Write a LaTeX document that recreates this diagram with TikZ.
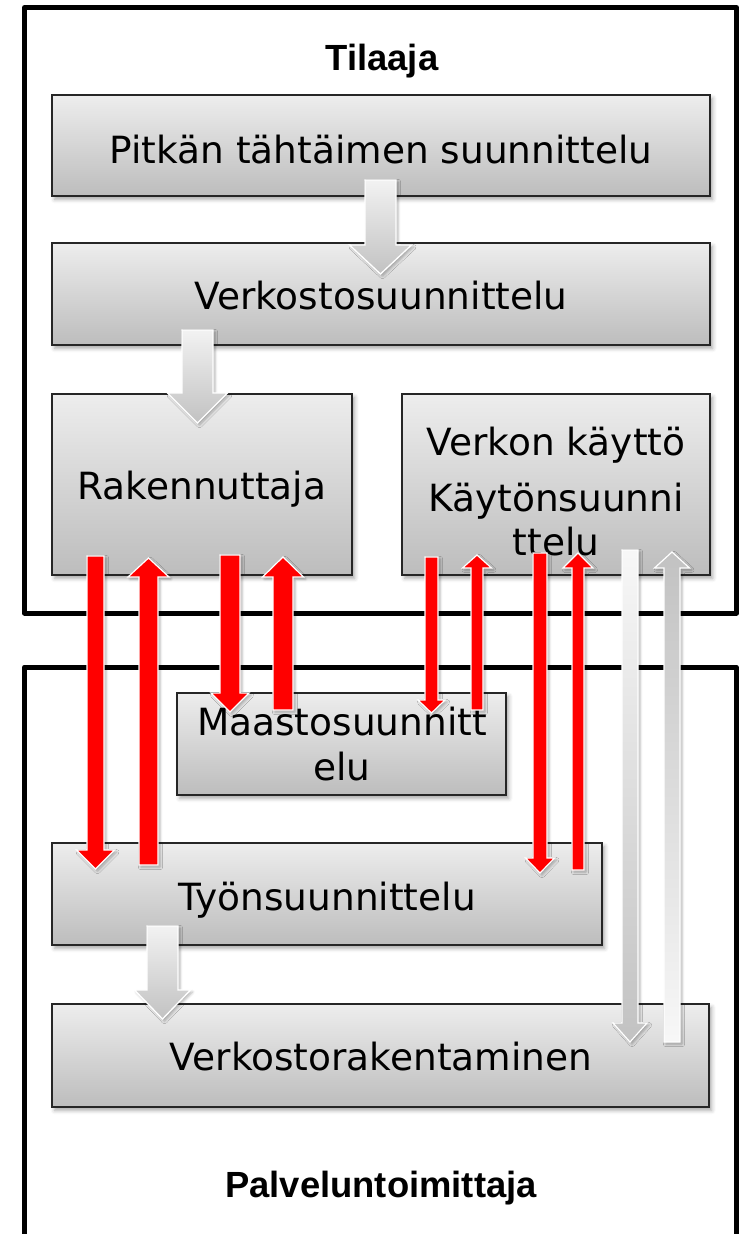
\documentclass[tikz,border=0pt]{standalone}
\usepackage{fontspec}
\setmainfont{DejaVu Sans}
\newfontfamily\headfont{Liberation Sans}
\usetikzlibrary{fit,shadows.blur}

% vertical block arrow: style, centre x, shaft half width, head half width,
% tail y, head base y, tip y
\newcommand\blockarrow[7]{%
  \path[#1] ({#2-#3},#5) -- ({#2+#3},#5) -- ({#2+#3},#6) -- ({#2+#4},#6)
    -- (#2,#7) -- ({#2-#4},#6) -- ({#2-#3},#6) -- cycle;}

\tikzset{
  frame/.style={draw=black, line width=3.75pt, line join=round},
  stage/.style={draw=black!85, line width=1.1pt, inner sep=0pt,
    top color=black!7, bottom color=black!26,
    blur shadow={shadow xshift=2pt, shadow yshift=-2.5pt,
      shadow blur radius=3pt, shadow opacity=35}},
  caption/.style={font=\fontsize{28.1pt}{33pt}\selectfont, anchor=base, inner sep=0pt},
  heading/.style={font=\headfont\bfseries\fontsize{27.3pt}{32pt}\selectfont,
    anchor=base, inner sep=0pt},
  flowshadow/.style={blur shadow={shadow xshift=1.5pt, shadow yshift=-1.5pt,
      shadow blur radius=2pt, shadow opacity=30}},
  redflow/.style={fill=red, draw=white, line width=0.9pt, flowshadow},
  bigflow/.style={top color=black!5, bottom color=black!24, draw=white,
    line width=1pt, flowshadow},
  grayflowdown/.style={top color=black!3, bottom color=black!24, draw=white,
    line width=0.9pt, flowshadow},
  grayflowup/.style={top color=black!24, bottom color=black!3, draw=white,
    line width=0.9pt, flowshadow},
}

\begin{document}
\begin{tikzpicture}[x=0.75pt, y=-0.75pt]
\useasboundingbox (0,0) rectangle (739,1234);

% organisation frames
\draw[frame] (24.5,7.5) rectangle (736.5,613);
\draw[frame] (24.5,1240) -- (24.5,667) -- (736,667) -- (736,1240);

% process stages
\node[stage, fit={(52,95) (710,196)}] (pitkan) {};
\node[stage, fit={(52,243) (710,345)}] (verkosto) {};
\node[stage, fit={(52,394) (352,575)}] (rak) {};
\node[stage, fit={(402,394) (710,575)}] (kaytto) {};
\node[stage, fit={(177,693) (506,795)}] (maasto) {};
\node[stage, fit={(52,843) (602,945)}] (tyon) {};
\node[stage, fit={(52,1004) (709,1107)}] (rakentaminen) {};

% texts
\node[heading] (tilaaja) at (382,71) {Tilaaja};
\node[heading] (palvelu) at (381,1197) {Palveluntoimittaja};
\node[caption] (tpitkan) at (381,164) {Pitkän tähtäimen suunnittelu};
\node[caption] (tverkosto) at (381,309) {Verkostosuunnittelu};
\node[caption] (trak) at (202,499) {Rakennuttaja};
\node[caption] (tkaytto) at (556,455) {Verkon käyttö};
\node[caption] (tkaytto2) at (556,511) {Käytönsuunni};
\node[caption] (tkaytto3) at (556,555) {ttelu};
\node[caption] (tmaasto) at (342,735) {Maastosuunnitt};
\node[caption] (tmaasto2) at (342,780) {elu};
\node[caption] (ttyon) at (327,910) {Työnsuunnittelu};
\node[caption] (trakentaminen) at (381,1070) {Verkostorakentaminen};

% main flow
\blockarrow{bigflow}{380.5}{15.5}{31}{180}{245}{274}
\blockarrow{bigflow}{197.5}{15.5}{30}{330}{393}{423}
\blockarrow{bigflow}{162.5}{15.5}{28}{926}{990}{1019}

% Rakennuttaja <-> Työnsuunnittelu / Maastosuunnittelu
\blockarrow{redflow}{95.5}{8.5}{19}{556}{850}{869}
\blockarrow{redflow}{148.5}{9.5}{20.5}{865}{577}{558}
\blockarrow{redflow}{230}{10}{19}{555}{693}{712}
\blockarrow{redflow}{283}{10}{20.5}{710}{577}{557}

% Verkon käyttö <-> Maastosuunnittelu / Työnsuunnittelu
\blockarrow{redflow}{431.5}{6.5}{13.5}{557}{700}{713}
\blockarrow{redflow}{477}{6}{14.5}{710}{568}{555}
\blockarrow{redflow}{540}{7}{14.5}{553}{858}{873}
\blockarrow{redflow}{578}{6}{15}{870}{568}{553}

% Verkon käyttö <-> Verkostorakentaminen
\blockarrow{grayflowdown}{630}{8}{17}{550}{1023}{1042}
\blockarrow{grayflowup}{672}{8}{17.5}{1042}{568}{552}
\end{tikzpicture}
\end{document}
